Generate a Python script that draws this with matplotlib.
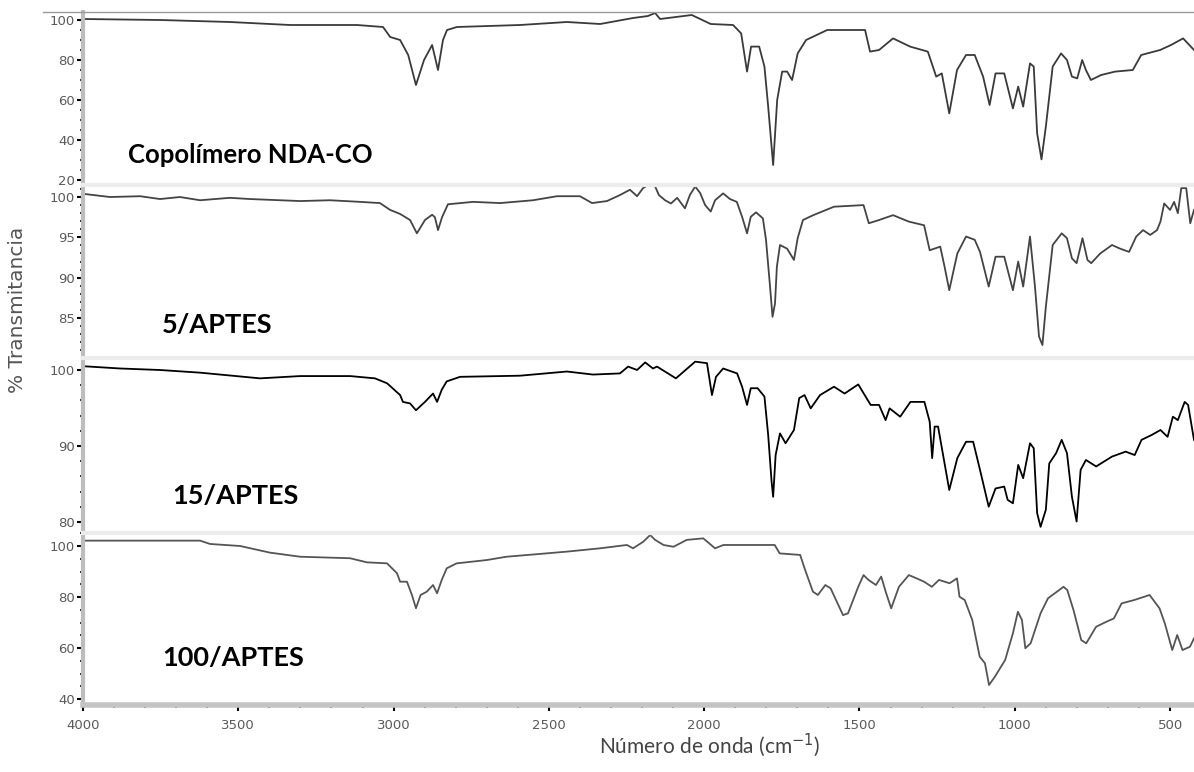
#FTIR spectra of the NDA-CO copolymer and the APTES series
#Four stacked panels sharing one wavenumber axis

import numpy as np
import matplotlib.pyplot as plt
from matplotlib.ticker import MultipleLocator
from matplotlib.lines import Line2D

#Spectrum data (wavenumber in cm-1, % transmittance)
wn_copolimero = [4000, 3752, 3527, 3334, 3118, 3034, 3011, 2979, 2953, 2928, 2902, 2876, 2857, 2841,
                 2828, 2796, 2593, 2442, 2335, 2229, 2181, 2158, 2142, 2040, 1979, 1907, 1881, 1862,
                 1849, 1823, 1806, 1794, 1778, 1765, 1749, 1733, 1717, 1699, 1672, 1604, 1482, 1466,
                 1437, 1392, 1337, 1280, 1253, 1235, 1211, 1186, 1157, 1129, 1102, 1081, 1062, 1034,
                 1006, 989, 973, 951, 939, 928, 914, 900, 878, 851, 832, 816, 799, 783, 771, 755,
                 722, 677, 620, 593, 532, 497, 458, 423]
t_copolimero = [100.5, 100, 99, 97.5, 97.5, 96.5, 91.5, 90, 82.5, 67.5, 80, 87.5, 75, 90,
                95, 96.5, 97.5, 99, 98, 101, 102, 103.5, 100.5, 102.5, 98, 97.5, 93.3, 74.2,
                86.7, 86.7, 76.7, 56.7, 27.5, 60, 74.2, 74.2, 70, 83.3, 90, 95, 95, 84.2,
                85, 90.8, 86.7, 84.2, 71.7, 73.3, 53.3, 75, 82.5, 82.5, 71.7, 57.5, 73.3, 73.3,
                55.8, 66.7, 56.7, 78.3, 76.7, 43.3, 30.3, 46.7, 76.7, 83.3, 80, 71.7, 70.8, 80, 75, 70,
                72.5, 74.2, 75, 82.5, 85, 87.5, 90.8, 85]

wn_5 = [4000, 3913, 3816, 3752, 3688, 3623, 3527, 3462, 3301, 3205, 3108, 3044, 3011, 2979,
        2947, 2925, 2899, 2876, 2867, 2857, 2844, 2825, 2744, 2657, 2551, 2474, 2400, 2361,
        2313, 2271, 2239, 2216, 2197, 2184, 2168, 2146, 2126, 2107, 2087, 2062, 2046, 2029,
        2013, 1997, 1979, 1965, 1939, 1917, 1895, 1878, 1862, 1850, 1833, 1811, 1801, 1788,
        1780, 1772, 1766, 1756, 1733, 1711, 1699, 1682, 1649, 1582, 1487, 1470, 1437, 1392,
        1341, 1292, 1274, 1240, 1226, 1211, 1185, 1157, 1129, 1112, 1084, 1062, 1034, 1006,
        989, 973, 951, 935, 922, 911, 900, 878, 849, 832, 816, 801, 782, 766, 754, 725,
        687, 661, 632, 609, 587, 564, 542, 531, 519, 500, 487, 475, 464, 448, 435, 423]
t_5 = [100.4, 100.0, 100.1, 99.75, 100.0, 99.6, 99.9, 99.75, 99.5, 99.6, 99.4, 99.25, 98.4, 97.9,
       97.15, 95.5, 97.15, 97.8, 97.5, 95.9, 97.5, 99.1, 99.4, 99.25, 99.6, 100.1, 100.1, 99.25,
       99.5, 100.25, 100.9, 100.1, 101.1, 101.4, 102.2, 100.25, 99.6, 99.2, 99.9, 98.6, 100.25, 101.3,
       100.5, 99.0, 98.2, 99.6, 100.45, 99.75, 99.4, 97.55, 95.5, 97.55, 98.1, 97.35, 94.7, 88.9,
       85.15, 86.8, 91.35, 94.05, 93.6, 92.2, 94.9, 97.15, 97.75, 98.8, 99.0, 96.75, 97.15, 97.75,
       96.95, 96.5, 93.4, 93.85, 91.35, 88.45, 93.0, 95.1, 94.7, 93.2, 88.9, 92.6, 92.6, 88.45,
       92.0, 88.9, 95.1, 88.9, 82.7, 81.65, 86.4, 94.05, 95.5, 94.9, 92.4, 91.8, 94.9, 92.2, 91.8, 93.0,
       94.05, 93.6, 93.2, 95.1, 95.9, 95.3, 95.9, 96.95, 99.2, 98.4, 99.4, 98.0, 101.1, 101.1, 96.75, 98.4]

wn_15 = [4000, 3881, 3752, 3623, 3430, 3301, 3140, 3060, 3021, 2979, 2970, 2947, 2928, 2899,
         2873, 2860, 2845, 2829, 2786, 2593, 2442, 2358, 2271, 2245, 2216, 2190, 2165, 2152,
         2091, 2029, 1991, 1975, 1962, 1939, 1894, 1878, 1862, 1850, 1828, 1806, 1794, 1783,
         1778, 1770, 1756, 1738, 1711, 1694, 1677, 1657, 1627, 1582, 1548, 1504, 1464, 1437,
         1416, 1403, 1369, 1336, 1291, 1274, 1266, 1258, 1247, 1211, 1185, 1157, 1134, 1112,
         1084, 1062, 1034, 1023, 1006, 989, 973, 951, 939, 928, 917, 900, 889, 867, 849, 832,
         816, 801, 788, 771, 738, 687, 643, 614, 592, 559, 531, 508, 491, 475, 453, 442, 423]
t_15 = [100.5, 100.2, 100, 99.65, 98.9, 99.2, 99.2, 98.9, 98.25, 96.7, 95.8, 95.6, 94.7, 95.8,
        96.9, 95.8, 97.4, 98.5, 99.1, 99.25, 99.8, 99.4, 99.55, 100.45, 100, 101, 100.2, 100.45,
        98.9, 101.1, 100.9, 96.7, 99.1, 100.2, 99.55, 97.8, 95.4, 97.6, 97.6, 96.5, 91.45, 85.3,
        83.3, 88.8, 91.65, 90.35, 92.1, 96.3, 96.7, 94.95, 96.7, 97.8, 96.9, 98.1, 95.4, 95.4,
        93.4, 94.95, 93.85, 95.8, 95.8, 93.2, 88.4, 92.55, 92.55, 84.2, 88.4, 90.55, 90.55, 86.85,
        82.0, 84.4, 84.65, 82.9, 82.45, 87.5, 85.75, 90.35, 89.7, 81.15, 79.35, 81.6, 87.7, 89.05, 90.8, 89.05,
        83.3, 80.05, 86.85, 88.15, 87.3, 88.6, 89.25, 88.8, 90.8, 91.45, 92.1, 91.2, 93.85, 93.4, 95.8, 95.4, 90.8]

wn_100 = [4000, 3623, 3591, 3494, 3398, 3301, 3140, 3086, 3021, 2989, 2979, 2957, 2941, 2928,
          2913, 2893, 2873, 2860, 2845, 2829, 2797, 2700, 2636, 2528, 2442, 2335, 2249, 2229,
          2196, 2174, 2158, 2131, 2099, 2056, 2003, 1965, 1938, 1852, 1773, 1757, 1691, 1675,
          1650, 1634, 1610, 1593, 1553, 1537, 1504, 1487, 1471, 1447, 1430, 1414, 1398, 1373,
          1341, 1316, 1292, 1267, 1244, 1210, 1186, 1178, 1161, 1137, 1113, 1096, 1083, 1064,
          1031, 1006, 990, 977, 966, 949, 917, 893, 843, 831, 811, 786, 770, 738, 705, 681,
          656, 616, 583, 566, 534, 517, 493, 477, 460, 436, 423]
t_100 = [102.1, 102.1, 100.8, 100, 97.4, 95.8, 95.2, 93.6, 93.2, 89.3, 86, 86, 80.8, 75.6,
         80.8, 82.1, 84.7, 81.45, 86.7, 91.25, 93.2, 94.5, 95.8, 96.9, 97.8, 99.1, 100.4, 99.1,
         101.7, 104.3, 102.4, 100.4, 99.7, 102.4, 103, 99.1, 100.4, 100.4, 100.4, 97.1, 96.5, 90.6,
         82.1, 80.8, 84.7, 83.4, 72.9, 73.6, 84, 88.6, 86.7, 84.7, 88, 81.45, 75.55, 84,
         88.6, 87.3, 86, 84, 86.7, 85.4, 87.3, 80.1, 78.8, 71, 56.6, 54, 45.5, 48.75,
         55.3, 65.8, 74.2, 71, 59.9, 61.85, 73.6, 79.5, 84, 82.75, 74.9, 63.1, 61.85, 68.35, 70.3, 71.6,
         77.5, 78.8, 80.1, 80.8, 75.55, 69.7, 59.2, 65.1, 59.2, 60.5, 63.8]

names = ['Copolímero NDA-CO', '5/APTES', '15/APTES', '100/APTES']
name_sizes = [18.5, 19.5, 19.5, 19.5]
ylims = [(18, 104), (80.17, 101.49), (78.8, 101.58), (37.65, 105.1)]
yticks = [[20, 40, 60, 80, 100], [85, 90, 95, 100], [80, 90, 100], [40, 60, 80, 100]]
yminor = [5, 1, 2, 5]
colors = ['#3a3a3a', '#444444', '#000000', '#555555']
xticks = [4000, 3500, 3000, 2500, 2000, 1500, 1000, 500]

W, H = 1194, 772
fig = plt.figure(figsize=(W / 100, H / 100), dpi=100)

#pixel rows (top, bottom) of each panel and label anchor (x, y)
rows = [(12, 184), (185, 357), (358, 531), (533, 705)]
label_pos = [(128, 155), (162, 325), (172, 496), (162, 658)]
spectra = [(wn_copolimero, t_copolimero), (wn_5, t_5), (wn_15, t_15), (wn_100, t_100)]

left = 83 / W
for i in range(4):
    top, bot = rows[i]
    ax = fig.add_axes([left, 1 - bot / H, 1 - left, (bot - top) / H])
    wn, t = spectra[i]
    ax.plot(wn, t, color=colors[i], lw=1.3)
    ax.set_xlim(4000, 423)
    ax.set_ylim(*ylims[i])
    ax.set_yticks(yticks[i])
    ax.yaxis.set_minor_locator(MultipleLocator(yminor[i]))
    ax.tick_params(axis='y', which='major', direction='out', length=4, width=1.5,
                   color='black', labelsize=9.5, labelcolor='#5a5a5a', pad=2)
    ax.tick_params(axis='y', which='minor', direction='out', length=2, width=1.2, color='black')
    ax.spines['right'].set_visible(False)
    ax.spines['left'].set_color('#bdbdbd')
    ax.spines['left'].set_linewidth(3)
    if i == 0:
        ax.spines['top'].set_color('#999999')
        ax.spines['top'].set_linewidth(1)
    else:
        ax.spines['top'].set_color('#ececec')
        ax.spines['top'].set_linewidth(3)
    if i < 3:
        ax.spines['bottom'].set_visible(False)
        ax.set_xticks([])
    else:
        ax.spines['bottom'].set_color('#c4c4c4')
        ax.spines['bottom'].set_linewidth(4)
        ax.set_xticks(xticks)
        ax.xaxis.set_minor_locator(MultipleLocator(100))
        ax.tick_params(axis='x', which='major', direction='out', length=4, width=1.5,
                       color='black', labelsize=9.5, labelcolor='#5a5a5a', pad=6)
        ax.tick_params(axis='x', which='minor', direction='out', length=2, width=1.2, color='black')
    lx, ly = label_pos[i]
    fig.text(lx / W, 1 - ly / H, names[i], family='Lato', weight='bold', fontsize=name_sizes[i],
             va='center', ha='left', color='black')

#thin line across the very top
fig.add_artist(Line2D([43 / W, left], [1 - 12 / H, 1 - 12 / H], color='#999999', lw=1))

fig.text(18 / W, 1 - 310 / H, '% Transmitancia', rotation=90, va='center', ha='center',
         fontsize=14.5, color='#555555', family='DejaVu Sans')
fig.text(710 / W, 1 - 745 / H, 'Número de onda (cm$^{-1}$)', va='center', ha='center',
         fontsize=15, color='#444444', family='Lato')

fig.savefig('out.png', dpi=100)
